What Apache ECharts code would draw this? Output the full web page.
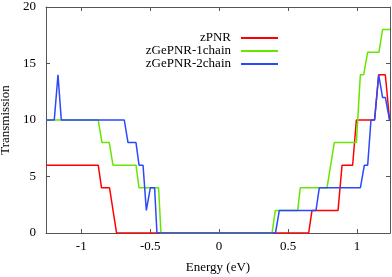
<!DOCTYPE html>
<html>
<head>
<meta charset="utf-8">
<script src="https://cdn.jsdelivr.net/npm/echarts@6/dist/echarts.min.js"></script>
<style>html,body{margin:0;padding:0;background:#fff}#c{width:392px;height:277px}</style>
</head>
<body>
<div id="c"></div>
<script>
var seriesNames = ['zPNR', 'zGePNR-1chain', 'zGePNR-2chain'];
var xTicks = [-1, -0.5, 0, 0.5, 1];
var yTicks = [0, 5, 10, 15, 20];

var energyZPNR = [-1.256, -0.877, -0.853, -0.795, -0.744, 0.650, 0.674, 0.863, 0.892, 0.969, 0.996, 1.128, 1.158, 1.206, 1.237];
var transZPNR  = [6, 6, 4, 4, 0, 0, 2, 2, 6, 6, 10, 10, 14, 14, 10];

var energy1chain = [-1.256, -0.877, -0.850, -0.797, -0.770, -0.603, -0.581, -0.439, -0.422, 0.384, 0.408, 0.570, 0.589, 0.783, 0.836, 0.996, 1.025, 1.049, 1.078, 1.160, 1.186, 1.240];
var trans1chain  = [10, 10, 8, 8, 6, 6, 4, 4, 0, 0, 2, 2, 4, 4, 8, 8, 14, 14, 16, 16, 18, 18];

var energy2chain = [-1.256, -1.196, -1.169, -1.145, -0.688, -0.661, -0.603, -0.581, -0.552, -0.528, -0.499, -0.468, -0.451, 0.409, 0.437, 0.703, 0.727, 1.025, 1.054, 1.078, 1.102, 1.128, 1.158, 1.186, 1.206, 1.237];
var trans2chain  = [10, 10, 14, 10, 10, 8, 8, 6, 6, 2, 4, 4, 0, 0, 2, 2, 4, 4, 6, 6, 10, 10, 14, 12, 12, 10];

function zip(xs, ys) { return xs.map(function (x, i) { return [x, ys[i]]; }); }

var colors = ['#ff0000', '#66e600', '#2a48ff'];
var FONT = '"Liberation Serif", "DejaVu Serif", serif';
var axisColor = '#555';
var xMin = -1.256, xMax = 1.24;

var chart = echarts.init(document.getElementById('c'), null, { renderer: 'canvas' });
var baseX = {
  type: 'value', min: xMin, max: xMax,
  axisLine: { show: true, onZero: false, lineStyle: { color: axisColor, width: 1 } },
  splitLine: { show: false }
};
var baseY = {
  type: 'value', min: 0, max: 20, interval: 5,
  axisLine: { show: true, onZero: false, lineStyle: { color: axisColor, width: 1 } },
  splitLine: { show: false }
};
chart.setOption({
  animation: false,
  textStyle: { fontFamily: FONT },
  grid: { left: 46, right: 2, top: 7, bottom: 44, containLabel: false, outerBoundsMode: 'none' },
  legend: {
    orient: 'vertical', right: 109, top: 26.5, align: 'right',
    itemWidth: 37, itemHeight: 2, itemGap: 0, icon: 'rect',
    textStyle: { fontFamily: FONT, fontSize: 13, color: '#000', lineHeight: 12.5, padding: [0, 5, 0, 0] },
    data: seriesNames
  },
  xAxis: [
    Object.assign({}, baseX, {
      position: 'bottom',
      name: 'Energy (eV)', nameLocation: 'middle', nameGap: 28,
      nameTextStyle: { fontFamily: FONT, fontSize: 13, color: '#000' },
      axisTick: { show: true, inside: true, length: 4, lineStyle: { color: axisColor }, customValues: xTicks },
      axisLabel: { show: true, margin: 7, fontFamily: FONT, fontSize: 13, color: '#000', customValues: xTicks }
    }),
    Object.assign({}, baseX, {
      position: 'top',
      axisTick: { show: true, inside: true, length: 4, lineStyle: { color: axisColor }, customValues: xTicks },
      axisLabel: { show: false }
    })
  ],
  yAxis: [
    Object.assign({}, baseY, {
      position: 'left',
      name: 'Transmission', nameLocation: 'middle', nameGap: 32,
      nameTextStyle: { fontFamily: FONT, fontSize: 13, color: '#000' },
      axisTick: { show: true, inside: true, length: 4, lineStyle: { color: axisColor } },
      axisLabel: { show: true, margin: 10, fontFamily: FONT, fontSize: 13, color: '#000', customValues: yTicks }
    }),
    Object.assign({}, baseY, {
      position: 'right',
      axisTick: { show: true, inside: true, length: 4, lineStyle: { color: axisColor } },
      axisLabel: { show: false }
    })
  ],
  series: [
    { name: seriesNames[0], type: 'line', data: zip(energyZPNR, transZPNR), showSymbol: false, symbol: 'none', color: colors[0], lineStyle: { width: 1.5, color: colors[0] }, z: 2 },
    { name: seriesNames[1], type: 'line', data: zip(energy1chain, trans1chain), showSymbol: false, symbol: 'none', color: colors[1], lineStyle: { width: 1.5, color: colors[1] }, z: 3 },
    { name: seriesNames[2], type: 'line', data: zip(energy2chain, trans2chain), showSymbol: false, symbol: 'none', color: colors[2], lineStyle: { width: 1.5, color: colors[2] }, z: 4 }
  ]
});
</script>
</body>
</html>
